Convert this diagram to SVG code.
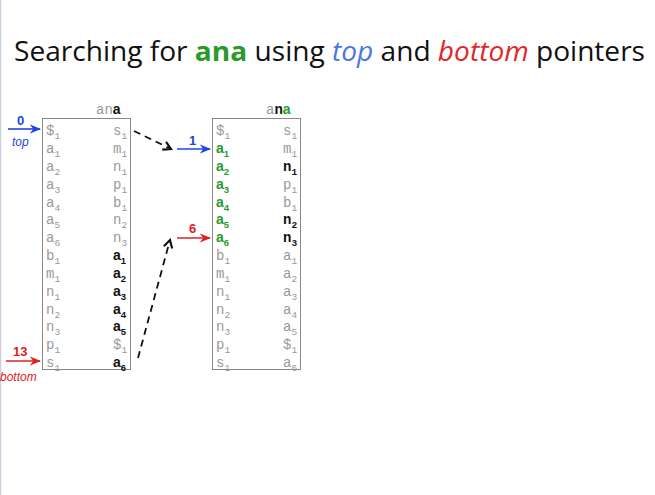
<svg xmlns="http://www.w3.org/2000/svg" width="655" height="495" viewBox="0 0 655 495">
  <style>
    .title { font-family: "Open Sans", "Liberation Sans", sans-serif; font-size: 27px; fill: #111; }
    .mono { font-family: "Liberation Mono", "DejaVu Sans Mono", monospace; font-size: 14px; fill: #999; }
    .sub { font-size: 9.5px; }
    .bk { fill: #111; font-weight: bold; }
    .gr { fill: #2a9a2a; font-weight: bold; }
    .sa { font-family: "Liberation Sans", Arial, sans-serif; }
    .box { fill: #fff; stroke: #888; stroke-width: 1; }
    .lbl { font-family: "Liberation Sans", Arial, sans-serif; font-size: 13px; font-weight: bold; }
    .cap { font-family: "Liberation Sans", Arial, sans-serif; font-size: 12px; font-style: italic; }
    .blue { fill: #2244dd; }
    .red { fill: #dd2222; }
    .ptr-b { stroke: #2244dd; stroke-width: 1.6; fill: none; }
    .ptr-r { stroke: #dd2222; stroke-width: 1.6; fill: none; }
    .dash { stroke: #111; stroke-width: 1.8; fill: none; stroke-dasharray: 7 5; }
  </style>
  <defs>
    <marker id="headB" viewBox="0 0 10 10" refX="9" refY="5" markerWidth="7" markerHeight="7" orient="auto">
      <path d="M0,1 L10,5 L0,9 L3,5 Z" fill="#2244dd"/>
    </marker>
    <marker id="headR" viewBox="0 0 10 10" refX="9" refY="5" markerWidth="7" markerHeight="7" orient="auto">
      <path d="M0,1 L10,5 L0,9 L3,5 Z" fill="#dd2222"/>
    </marker>
    <marker id="headK" viewBox="0 0 10 10" refX="8" refY="5" markerWidth="6" markerHeight="6" orient="auto">
      <path d="M1,1 L8,5 L1,9" fill="none" stroke="#111" stroke-width="2"/>
    </marker>
  </defs>

  <rect width="655" height="495" fill="#fff"/>
  <line x1="0.5" y1="0" x2="0.5" y2="495" stroke="#c8d0e0" stroke-width="1.5"/>

  <text class="title" x="14" y="61" textLength="631" lengthAdjust="spacingAndGlyphs">Searching for <tspan fill="#2a9a2a" font-weight="bold">ana</tspan> using <tspan fill="#4a78e0" font-style="italic">top</tspan> and <tspan fill="#e02828" font-style="italic">bottom</tspan> pointers</text>

  <!-- first range: whole matrix, matching the last a -->
  <g id="matrix-1">
    <rect class="box" x="42.5" y="118.5" width="88" height="251"/>
    <text class="mono" x="96" y="114">an<tspan class="bk sa">a</tspan></text>
    <g class="mono">
      <text x="46" y="135">$<tspan class="sub" dy="4">1</tspan></text>
      <text x="46" y="153">a<tspan class="sub" dy="4">1</tspan></text>
      <text x="46" y="171">a<tspan class="sub" dy="4">2</tspan></text>
      <text x="46" y="189">a<tspan class="sub" dy="4">3</tspan></text>
      <text x="46" y="207">a<tspan class="sub" dy="4">4</tspan></text>
      <text x="46" y="224">a<tspan class="sub" dy="4">5</tspan></text>
      <text x="46" y="242">a<tspan class="sub" dy="4">6</tspan></text>
      <text x="46" y="260">b<tspan class="sub" dy="4">1</tspan></text>
      <text x="46" y="278">m<tspan class="sub" dy="4">1</tspan></text>
      <text x="46" y="296">n<tspan class="sub" dy="4">1</tspan></text>
      <text x="46" y="314">n<tspan class="sub" dy="4">2</tspan></text>
      <text x="46" y="331">n<tspan class="sub" dy="4">3</tspan></text>
      <text x="46" y="349">p<tspan class="sub" dy="4">1</tspan></text>
      <text x="46" y="367">s<tspan class="sub" dy="4">1</tspan></text>

      <text x="113" y="135">s<tspan class="sub" dy="4">1</tspan></text>
      <text x="113" y="153">m<tspan class="sub" dy="4">1</tspan></text>
      <text x="113" y="171">n<tspan class="sub" dy="4">1</tspan></text>
      <text x="113" y="189">p<tspan class="sub" dy="4">1</tspan></text>
      <text x="113" y="207">b<tspan class="sub" dy="4">1</tspan></text>
      <text x="113" y="224">n<tspan class="sub" dy="4">2</tspan></text>
      <text x="113" y="242">n<tspan class="sub" dy="4">3</tspan></text>
      <text x="113" y="260" class="bk sa">a<tspan class="sub" dy="4">1</tspan></text>
      <text x="113" y="278" class="bk sa">a<tspan class="sub" dy="4">2</tspan></text>
      <text x="113" y="296" class="bk sa">a<tspan class="sub" dy="4">3</tspan></text>
      <text x="113" y="314" class="bk sa">a<tspan class="sub" dy="4">4</tspan></text>
      <text x="113" y="331" class="bk sa">a<tspan class="sub" dy="4">5</tspan></text>
      <text x="113" y="349">$<tspan class="sub" dy="4">1</tspan></text>
      <text x="113" y="367" class="bk sa">a<tspan class="sub" dy="4">6</tspan></text>
    </g>
  </g>

  <!-- second range: rows prefixed by a, then matching n -->
  <g id="matrix-2">
    <rect class="box" x="212.5" y="118.5" width="88" height="251"/>
    <text class="mono" x="266" y="114">a<tspan class="bk">n</tspan><tspan class="gr sa">a</tspan></text>
    <g class="mono">
      <text x="216" y="135">$<tspan class="sub" dy="4">1</tspan></text>
      <text x="216" y="153" class="gr sa">a<tspan class="sub" dy="4">1</tspan></text>
      <text x="216" y="171" class="gr sa">a<tspan class="sub" dy="4">2</tspan></text>
      <text x="216" y="189" class="gr sa">a<tspan class="sub" dy="4">3</tspan></text>
      <text x="216" y="207" class="gr sa">a<tspan class="sub" dy="4">4</tspan></text>
      <text x="216" y="224" class="gr sa">a<tspan class="sub" dy="4">5</tspan></text>
      <text x="216" y="242" class="gr sa">a<tspan class="sub" dy="4">6</tspan></text>
      <text x="216" y="260">b<tspan class="sub" dy="4">1</tspan></text>
      <text x="216" y="278">m<tspan class="sub" dy="4">1</tspan></text>
      <text x="216" y="296">n<tspan class="sub" dy="4">1</tspan></text>
      <text x="216" y="314">n<tspan class="sub" dy="4">2</tspan></text>
      <text x="216" y="331">n<tspan class="sub" dy="4">3</tspan></text>
      <text x="216" y="349">p<tspan class="sub" dy="4">1</tspan></text>
      <text x="216" y="367">s<tspan class="sub" dy="4">1</tspan></text>

      <text x="283" y="135">s<tspan class="sub" dy="4">1</tspan></text>
      <text x="283" y="153">m<tspan class="sub" dy="4">1</tspan></text>
      <text x="283" y="171" class="bk">n<tspan class="sub" dy="4">1</tspan></text>
      <text x="283" y="189">p<tspan class="sub" dy="4">1</tspan></text>
      <text x="283" y="207">b<tspan class="sub" dy="4">1</tspan></text>
      <text x="283" y="224" class="bk">n<tspan class="sub" dy="4">2</tspan></text>
      <text x="283" y="242" class="bk">n<tspan class="sub" dy="4">3</tspan></text>
      <text x="283" y="260">a<tspan class="sub" dy="4">1</tspan></text>
      <text x="283" y="278">a<tspan class="sub" dy="4">2</tspan></text>
      <text x="283" y="296">a<tspan class="sub" dy="4">3</tspan></text>
      <text x="283" y="314">a<tspan class="sub" dy="4">4</tspan></text>
      <text x="283" y="331">a<tspan class="sub" dy="4">5</tspan></text>
      <text x="283" y="349">$<tspan class="sub" dy="4">1</tspan></text>
      <text x="283" y="367">a<tspan class="sub" dy="4">6</tspan></text>
    </g>
  </g>

  <!-- top / bottom pointers -->
  <g id="ptr-top-0">
    <line class="ptr-b" x1="8" y1="129" x2="40" y2="129" marker-end="url(#headB)"/>
    <text class="lbl blue" x="17" y="125">0</text>
    <text class="cap blue" x="12" y="146">top</text>
  </g>
  <g id="ptr-bottom-13">
    <line class="ptr-r" x1="6" y1="361" x2="40" y2="361" marker-end="url(#headR)"/>
    <text class="lbl red" x="13" y="356">13</text>
    <text class="cap red" x="0" y="381">bottom</text>
  </g>
  <g id="ptr-top-1">
    <line class="ptr-b" x1="177" y1="149" x2="210" y2="149" marker-end="url(#headB)"/>
    <text class="lbl blue" x="189" y="145">1</text>
  </g>
  <g id="ptr-bottom-6">
    <line class="ptr-r" x1="177" y1="238" x2="210" y2="238" marker-end="url(#headR)"/>
    <text class="lbl red" x="189" y="233">6</text>
  </g>

  <!-- LF mapping of the range ends -->
  <g id="connectors">
    <line class="dash" x1="134" y1="131" x2="171" y2="149" marker-end="url(#headK)"/>
    <line class="dash" x1="138" y1="358" x2="170" y2="240" marker-end="url(#headK)"/>
  </g>
</svg>
